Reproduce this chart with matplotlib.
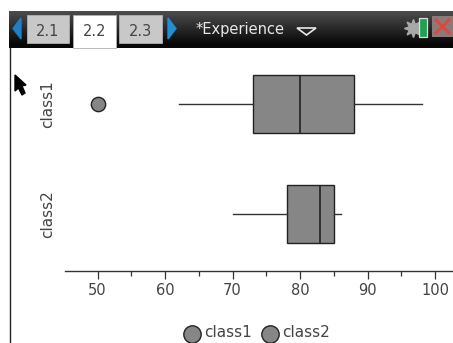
import matplotlib
matplotlib.use("Agg")
import numpy as np
import matplotlib.pyplot as plt
from matplotlib.patches import Rectangle, Polygon
from matplotlib.lines import Line2D

plt.rcParams['font.family'] = ['DejaVu Sans']

categories = ["class1", "class2"]
y_positions = [1, 0]
mins = [62, 70]
q1s = [73, 78]
medians = [80, 83]
q3s = [88, 85]
maxs = [98, 86]
outliers = [[50], []]
x_ticks = [50, 60, 70, 80, 90, 100]
x_minor = [55, 65, 75, 85, 95]
tabs = ["2.1", "2.2", "2.3"]
title = "*Experience"

W, H = 453, 343
fig = plt.figure(figsize=(W / 100, H / 100), dpi=100, facecolor="white")

# page chrome in pixel coordinates
bg = fig.add_axes([0, 0, 1, 1], zorder=0)
bg.set_xlim(0, W); bg.set_ylim(H, 0); bg.axis("off")
grad = np.linspace(0.30, 0.04, 32).reshape(-1, 1)
grad = np.vstack([grad, np.full((5, 1), 0.03)])
bg.imshow(grad, extent=[9, W, 48, 11], cmap="gray", vmin=0, vmax=1, aspect="auto", zorder=1)
bg.set_xlim(0, W); bg.set_ylim(H, 0)
bg.add_line(Line2D([9.5, 9.5], [48, H], color="#222222", lw=1.0, zorder=2))
for label, x0, x1, active in zip(tabs, [27, 73, 119], [69, 116, 162], [False, True, False]):
    y1 = 48 if active else 43
    bg.add_patch(Rectangle((x0, 15), x1 - x0, y1 - 15, facecolor="white" if active else "#c8c8c8",
                           edgecolor="#b0b0b0", lw=0.6, zorder=3))
    bg.text((x0 + x1) / 2, 31, label, ha="center", va="center", fontsize=10.5, color="#444444", zorder=4)
bg.add_patch(Polygon([[21, 18], [21, 39], [13, 28.5]], color="#1f7fc4", zorder=3))
bg.add_patch(Polygon([[168, 18], [168, 39], [176, 28.5]], color="#1f8fd4", zorder=3))
bg.text(196, 29.5, title, ha="left", va="center", fontsize=10.5, color="#e8e8e8", zorder=4)
bg.add_patch(Polygon([[297, 28], [316, 28], [306.5, 35]], facecolor="none", edgecolor="#e8e8e8", lw=1.2, zorder=3))
# document status icons
bg.add_line(Line2D([413], [28], marker=(8, 1, 0), markersize=13, color="#a8a8a8", zorder=3))
bg.add_patch(Rectangle((419, 18), 8, 19, facecolor="#20a050", edgecolor="#dddddd", lw=0.9, zorder=4))
bg.add_patch(Rectangle((432, 16), 21, 21, facecolor="#8a7a78", edgecolor="none", zorder=3))
bg.add_line(Line2D([436, 449], [20, 33], color="#e8423c", lw=2, zorder=4))
bg.add_line(Line2D([449, 436], [20, 33], color="#e8423c", lw=2, zorder=4))
# cursor
bg.add_patch(Polygon([[15, 75], [15, 91], [18.5, 88], [22, 95], [25, 93], [22, 86], [26, 85]],
                     color="black", zorder=5))

# plot axes
ax = fig.add_axes([65 / W, 1 - 271 / H, (W - 65) / W, (271 - 48) / H], zorder=2)
ax.patch.set_alpha(0)
px = 6.75
x50 = 97.5
ax.set_xlim(50 + (65 - x50) / px, 50 + (W - x50) / px)
ax.set_ylim((214 - 271) / 110, (214 - 48) / 110)

stats = [dict(label=c, whislo=a, q1=b, med=m, q3=d, whishi=e, fliers=f)
         for c, a, b, m, d, e, f in zip(categories, mins, q1s, medians, q3s, maxs, outliers)]
ax.bxp(stats, positions=y_positions, vert=False, widths=0.53, patch_artist=True, showcaps=False,
       boxprops=dict(facecolor="#868686", edgecolor="#222222", lw=1.0),
       medianprops=dict(color="#222222", lw=1.2),
       whiskerprops=dict(color="#333333", lw=1.0),
       flierprops=dict(marker="o", markerfacecolor="#868686", markeredgecolor="#222222",
                       markersize=10.3, markeredgewidth=1.0))

for s in ["top", "right", "left"]:
    ax.spines[s].set_visible(False)
ax.spines["bottom"].set_color("#333333")
ax.spines["bottom"].set_linewidth(1.0)
ax.set_xticks(x_ticks)
ax.set_xticks(x_minor, minor=True)
ax.tick_params(axis="x", which="major", length=5.8, width=0.9, color="#333333", pad=3,
               labelsize=10.5, labelcolor="#444444")
ax.tick_params(axis="x", which="minor", length=3.6, width=0.9, color="#333333")
ax.set_yticks([])

for c, y in zip(categories, y_positions):
    ax.annotate(c, xy=(48, ax.transData.transform((0, y))[1]), xycoords=("figure pixels", "figure pixels"),
                ha="center", va="center", rotation=90, fontsize=11, color="#444444")

# legend, laid out as in the reference
leg_x = [192, 270]
for c, x in zip(categories, leg_x):
    bg.add_line(Line2D([x], [334], marker="o", markersize=12.5, markerfacecolor="#868686",
                       markeredgecolor="#222222", markeredgewidth=1.0, zorder=3))
    bg.text(x + 12, 332.5, c, ha="left", va="center", fontsize=11, color="#444444", zorder=3)

fig.savefig("out.png", dpi=100)
